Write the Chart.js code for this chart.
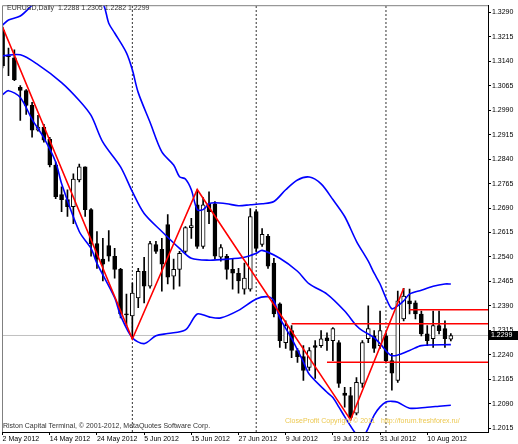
<!DOCTYPE html>
<html>
<head>
<meta charset="utf-8">
<script src="https://cdn.jsdelivr.net/npm/chart.js@4.4.1/dist/chart.umd.min.js"></script>
<style>
html, body { margin: 0; padding: 0; background: #fff; }
canvas { display: block; }
</style>
</head>
<body>
<canvas id="myChart" width="518" height="444"></canvas>
<script>
// EURUSD daily bars, index 0 = 2 May 2012 ... 76 = 16 Aug 2012
var opens = [1.3236,1.3157,1.3151,1.3060,1.3050,1.3005,1.2929,1.2938,1.2901,1.2822,
  1.2731,1.2716,1.2694,1.2776,1.2816,1.2685,1.2581,1.2533,1.2575,1.2542,
  1.2502,1.2365,1.2359,1.2414,1.2496,1.2450,1.2578,1.2563,1.2639,1.2481,
  1.2502,1.2557,1.2630,1.2700,1.2572,1.2703,1.2703,1.2539,1.2542,1.2502,
  1.2490,1.2441,1.2441,1.2679,1.2578,1.2603,1.2521,1.2396,1.2277,1.2314,
  1.2253,1.2234,1.2201,1.2268,1.2268,1.2292,1.2283,1.2277,1.2122,1.2115,
  1.2061,1.2152,1.2289,1.2298,1.2268,1.2298,1.2222,1.2161,1.2350,1.2405,
  1.2399,1.2365,1.2304,1.2289,1.2329,1.2320,1.2288];
var highs = [1.3245,1.3181,1.3175,1.3066,1.3053,1.3014,1.2974,1.2947,1.2907,1.2831,
  1.2755,1.2746,1.2795,1.2825,1.2816,1.2688,1.2618,1.2597,1.2621,1.2566,
  1.2505,1.2426,1.2460,1.2505,1.2539,1.2588,1.2588,1.2597,1.2670,1.2533,
  1.2557,1.2633,1.2658,1.2746,1.2722,1.2740,1.2710,1.2578,1.2548,1.2533,
  1.2505,1.2521,1.2688,1.2685,1.2627,1.2609,1.2536,1.2399,1.2344,1.2329,
  1.2259,1.2268,1.2262,1.2283,1.2314,1.2307,1.2323,1.2283,1.2140,1.2140,
  1.2170,1.2283,1.2390,1.2314,1.2374,1.2307,1.2244,1.2435,1.2444,1.2441,
  1.2405,1.2374,1.2329,1.2374,1.2374,1.2344,1.2305];
var lows = [1.3120,1.3096,1.3081,1.2959,1.2977,1.2907,1.2926,1.2892,1.2816,1.2719,
  1.2679,1.2664,1.2642,1.2770,1.2664,1.2542,1.2505,1.2466,1.2527,1.2475,
  1.2353,1.2329,1.2289,1.2384,1.2399,1.2444,1.2551,1.2435,1.2457,1.2441,
  1.2450,1.2551,1.2597,1.2566,1.2566,1.2642,1.2533,1.2527,1.2472,1.2441,
  1.2429,1.2426,1.2435,1.2557,1.2572,1.2505,1.2356,1.2262,1.2259,1.2231,
  1.2216,1.2161,1.2192,1.2167,1.2262,1.2253,1.2222,1.2140,1.2079,1.2039,
  1.2055,1.2140,1.2277,1.2247,1.2259,1.2216,1.2131,1.2155,1.2344,1.2365,
  1.2350,1.2298,1.2268,1.2262,1.2304,1.2262,1.2282];
var closes = [1.3126,1.3154,1.3084,1.3051,1.3005,1.2929,1.2938,1.2898,1.2822,1.2725,
  1.2716,1.2694,1.2779,1.2816,1.2685,1.2581,1.2533,1.2518,1.2542,1.2502,
  1.2365,1.2362,1.2429,1.2496,1.2450,1.2581,1.2557,1.2518,1.2478,1.2502,
  1.2551,1.2630,1.2636,1.2572,1.2700,1.2679,1.2542,1.2569,1.2502,1.2490,
  1.2466,1.2475,1.2664,1.2566,1.2609,1.2512,1.2365,1.2283,1.2329,1.2253,
  1.2234,1.2192,1.2253,1.2262,1.2289,1.2283,1.2320,1.2152,1.2115,1.2048,
  1.2155,1.2277,1.2320,1.2259,1.2314,1.2222,1.2183,1.2405,1.2420,1.2396,
  1.2365,1.2304,1.2283,1.2329,1.2314,1.2289,1.2299];

// bollinger bands (bar index, price)
var upperK = [0,1,3,5,7,10,12,15,17,18,19,21,22,23,25,27,29,30,31,32,33,34,35,36,38,40,42,44,46,48,50,52,54,56,58,60,62,63,64,65,66,67,68,69,71,73,75,76];
var upperV = [1.3251,1.3267,1.3279,1.3312,1.3343,1.3355,1.3355,1.3343,1.3318,1.3257,1.3227,1.3166,1.3114,1.3044,1.2953,1.2862,1.2822,1.2786,1.2779,1.2746,
  1.2685,1.2685,1.2703,1.2706,1.2703,1.2697,1.2700,1.2703,1.2710,1.2746,1.2776,1.2785,1.2764,1.2716,1.2664,1.2588,1.2527,1.2490,1.2457,1.2414,
  1.2381,1.2390,1.2405,1.2426,1.2438,1.2450,1.2457,1.2457];
var middleK = [0,3,6,10,13,15,17,20,22,24,27,30,32,35,38,41,43,44,47,50,52,55,58,60,61,63,64,66,69,71,76];
var middleV = [1.3157,1.3160,1.3130,1.3075,1.3020,1.2974,1.2892,1.2816,1.2740,1.2673,
  1.2618,1.2566,1.2536,1.2530,1.2533,1.2539,1.2551,1.2560,1.2536,1.2496,
  1.2457,1.2426,1.2374,1.2329,1.2314,1.2292,1.2274,1.2237,1.2253,1.2268,1.2271];
var lowerK = [0,1,3,5,7,9,10,13,15,16,19,20,22,24,26,28,31,33,35,37,40,43,45,46,47,49,51,52,55,56,57,58,60,61,62,63,64,65,66,67,69,72,74,76];
var lowerV = [1.3038,1.3050,1.3029,1.2962,1.2905,1.2831,1.2765,1.2618,1.2566,1.2520,
  1.2415,1.2360,1.2292,1.2274,1.2298,1.2305,1.2316,1.2365,1.2356,1.2353,
  1.2376,1.2411,1.2418,1.2405,1.2353,1.2290,1.2218,1.2180,1.2125,1.2109,
  1.2080,1.2050,1.1995,1.1985,1.2015,1.2055,1.2080,1.2095,1.2097,1.2094,
  1.2076,1.2079,1.2082,1.2085];

// zigzag, horizontal levels, month separators, bid
var zigK = [0, 22, 33, 59, 68];
var zigV = [1.3245, 1.2288, 1.2747, 1.2040, 1.2444];
var levelV = [1.2378, 1.2335, 1.2217];
var levelFrom = [69, 49, 55];
var sepK = [22, 43, 65];
var bid = 1.2299;

var tickIdx = [0, 8, 16, 24, 32, 40, 48, 56, 64, 72];
var tickLabels = ['2 May 2012', '14 May 2012', '24 May 2012', '5 Jun 2012', '15 Jun 2012',
  '27 Jun 2012', '9 Jul 2012', '19 Jul 2012', '31 Jul 2012', '10 Aug 2012'];
var yTicks = [];
for (var j = 0; j <= 17; j++) yTicks.push(+(1.2015 + 0.0075 * j).toFixed(4));

var yMin = 1.20029, yMax = 1.33122;
var xMin = -0.1, xMax = 82.3;

function pts(ks, vs) {
  return ks.map(function (k, i) { return { x: k, y: vs[i] }; });
}

var bodies = [], wicks = [], bodyFill = [];
for (var i = 0; i < opens.length; i++) {
  bodies.push({ x: i, y: [opens[i], closes[i]] });
  wicks.push({ x: i, y: [lows[i], highs[i]] });
  bodyFill.push(closes[i] >= opens[i] ? '#ffffff' : '#000000');
}

function lineSet(data, color, width, extra) {
  var d = {
    type: 'line', data: data, borderColor: color, borderWidth: width,
    pointRadius: 0, fill: false, tension: 0
  };
  for (var key in extra) d[key] = extra[key];
  return d;
}

var datasets = [];
datasets.push(lineSet(pts(zigK, zigV), '#ff0000', 1.6));
levelV.forEach(function (v, i) {
  datasets.push(lineSet([{ x: levelFrom[i], y: v }, { x: xMax, y: v }], '#ff0000', 1.6));
});
datasets.push(lineSet(pts(upperK, upperV), '#0000ff', 1.6, { tension: 0.3 }));
datasets.push(lineSet(pts(middleK, middleV), '#0000ff', 1.6, { tension: 0.3 }));
datasets.push(lineSet(pts(lowerK, lowerV), '#0000ff', 1.6, { tension: 0.3 }));
datasets.push({
  type: 'bar', data: bodies, backgroundColor: bodyFill, borderColor: '#000',
  borderWidth: 1, borderSkipped: false, barThickness: 4, grouped: false, minBarLength: 1
});
datasets.push({
  type: 'bar', data: wicks, backgroundColor: '#000', borderWidth: 0,
  barThickness: 1, grouped: false
});
sepK.forEach(function (k) {
  datasets.push(lineSet([{ x: k, y: yMin }, { x: k, y: yMax }], '#333', 1, { borderDash: [2, 2] }));
});
datasets.push(lineSet([{ x: xMin, y: bid }, { x: xMax, y: bid }], '#c0c0c0', 1));

var axisFont = { family: 'Liberation Sans', size: 7 };

var mtPlugin = {
  id: 'mt',
  beforeDraw: function (chart) {
    var c = chart.ctx;
    c.save();
    c.fillStyle = '#fff';
    c.fillRect(0, 0, chart.width, chart.height);
    c.restore();
  },
  afterDraw: function (chart) {
    var c = chart.ctx, a = chart.chartArea;
    c.save();
    c.strokeStyle = '#808080';
    c.lineWidth = 1;
    c.beginPath();
    c.moveTo(a.left + 0.5, a.bottom);
    c.lineTo(a.left + 0.5, a.top + 0.5);
    c.lineTo(a.right, a.top + 0.5);
    c.stroke();

    c.font = '7px "Liberation Sans"';
    c.textBaseline = 'middle';
    c.fillStyle = '#333';
    c.fillText('EURUSD,Daily  1.2288 1.2305 1.2282 1.2299', 7, 8);
    c.fillText('Riston Capital Terminal, \u00a9 2001-2012, MetaQuotes Software Corp.', 3, 426);
    c.fillStyle = '#ecc850';
    c.fillText('CloseProfit Copyright \u00a9 2011   http://forum.freshforex.ru/', 285, 421);

    var y = chart.scales.y.getPixelForValue(bid);
    c.fillStyle = '#000';
    c.fillRect(489, Math.round(y) - 4, 29, 9);
    c.fillStyle = '#fff';
    c.fillText(bid.toFixed(4), 491, Math.round(y) + 0.5);
    c.restore();
  }
};

var ctx = document.getElementById('myChart').getContext('2d');
var myChart = new Chart(ctx, {
  type: 'bar',
  data: { datasets: datasets },
  plugins: [mtPlugin],
  options: {
    responsive: false,
    animation: false,
    events: [],
    layout: { padding: { left: 2, top: 2, right: 0, bottom: 0 } },
    plugins: { legend: { display: false }, tooltip: { enabled: false } },
    scales: {
      x: {
        type: 'linear', min: xMin, max: xMax, offset: false,
        afterBuildTicks: function (s) { s.ticks = tickIdx.map(function (v) { return { value: v }; }); },
        afterFit: function (s) { s.height = 12; },
        ticks: {
          autoSkip: false, maxRotation: 0, align: 'start', padding: 0,
          font: axisFont, color: '#000',
          callback: function (v, i) { return tickLabels[i]; }
        },
        grid: { offset: false, drawOnChartArea: false, tickLength: 3, color: '#000' },
        border: { color: '#000' }
      },
      y: {
        type: 'linear', position: 'right', min: yMin, max: yMax,
        afterBuildTicks: function (s) { s.ticks = yTicks.map(function (v) { return { value: v }; }); },
        afterFit: function (s) { s.width = 30; },
        ticks: {
          padding: 1, crossAlign: 'near', font: axisFont, color: '#000',
          callback: function (v) { return v.toFixed(4); }
        },
        grid: { drawOnChartArea: false, tickLength: 3, color: '#000' },
        border: { color: '#000' }
      }
    }
  }
});
</script>
</body>
</html>
